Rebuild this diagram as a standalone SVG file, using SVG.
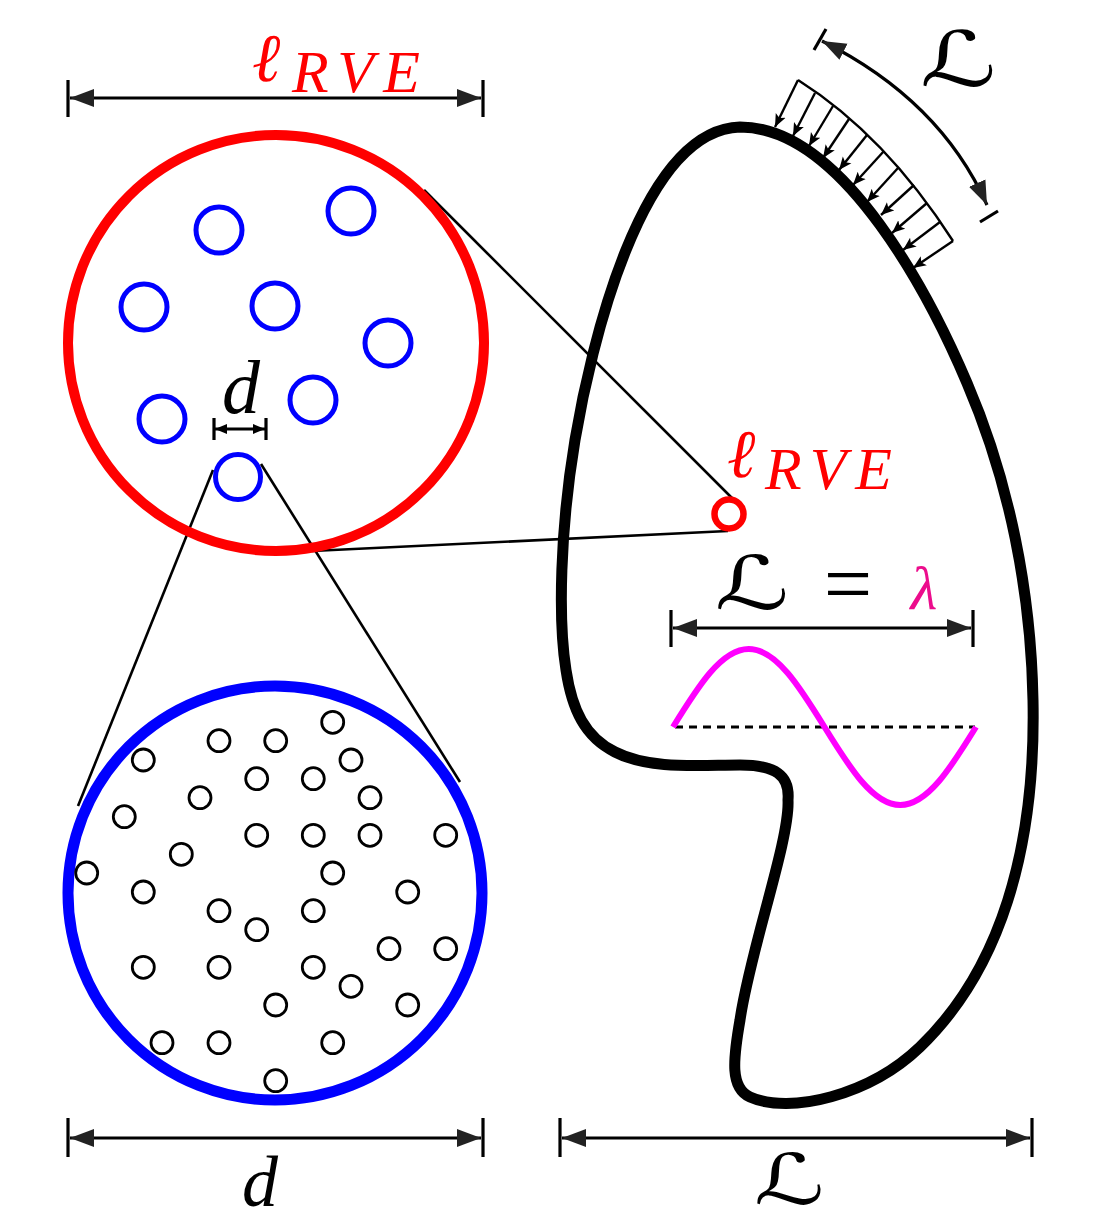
<svg xmlns="http://www.w3.org/2000/svg" width="1097" height="1224" viewBox="0 0 1097 1224">
<style>
.dim{fill:none;stroke:#000;stroke-width:3.2}
.bar{stroke:#000;stroke-width:3.2}
.thin{fill:none;stroke:#000;stroke-width:2.6}
.load{fill:none;stroke:#000;stroke-width:2.4}
.inc{fill:none;stroke:#000;stroke-width:2.8}
.fib{fill:none;stroke:#0000ff;stroke-width:5}
.math{font-family:"Liberation Serif","DejaVu Serif",serif;font-style:italic}
.scr{font-family:"DejaVu Serif","DejaVu Sans",serif}
.ell{font-family:"DejaVu Serif",serif;font-style:italic}
.red{fill:#ff0000}
</style>
<defs>
<marker id="ah" markerUnits="userSpaceOnUse" markerWidth="30" markerHeight="24" refX="24" refY="10" orient="auto-start-reverse" viewBox="0 0 30 24">
<path d="M24,10 L0,1 L0,19 Z" fill="#222"/>
</marker>
<marker id="ahs" markerUnits="userSpaceOnUse" markerWidth="16" markerHeight="14" refX="12" refY="6" orient="auto-start-reverse" viewBox="0 0 16 14">
<path d="M12,6 L0,1 L0,11 Z" fill="#000"/>
</marker>
<marker id="la" markerUnits="userSpaceOnUse" markerWidth="16" markerHeight="14" refX="13" refY="6" orient="auto" viewBox="0 0 16 14">
<path d="M13,6 L0,0.5 L3,6 L0,11.5 Z" fill="#000"/>
</marker>
</defs>

<g id="connectors">
<line class="thin" x1="424" y1="190" x2="734" y2="500"/>
<line class="thin" x1="312" y1="551" x2="728" y2="531"/>
<line class="thin" x1="213" y1="470" x2="78" y2="806"/>
<line class="thin" x1="261" y1="464" x2="460" y2="782"/>
</g>

<g id="rve">
<circle cx="276" cy="343" r="208" fill="none" stroke="#ff0000" stroke-width="10"/>
<circle class="fib" cx="219" cy="230" r="23"/>
<circle class="fib" cx="351" cy="211" r="23"/>
<circle class="fib" cx="144" cy="307" r="23"/>
<circle class="fib" cx="275" cy="306" r="23"/>
<circle class="fib" cx="388" cy="343" r="23"/>
<circle class="fib" cx="162" cy="419" r="23"/>
<circle class="fib" cx="313" cy="400" r="23"/>
<circle class="fib" cx="238" cy="477" r="22.5"/>
</g>

<g id="fiber">
<circle cx="275" cy="893" r="207" fill="none" stroke="#0000ff" stroke-width="11"/>
<g class="inc">
<circle cx="332.7" cy="722.3" r="11"/><circle cx="219" cy="740.7" r="11"/><circle cx="275.7" cy="740.7" r="11"/>
<circle cx="143.3" cy="760" r="11"/><circle cx="351" cy="760" r="11"/><circle cx="256.7" cy="778.7" r="11"/>
<circle cx="313.3" cy="778.7" r="11"/><circle cx="200" cy="797.7" r="11"/><circle cx="370" cy="797.7" r="11"/>
<circle cx="124.3" cy="816.7" r="11"/><circle cx="256.7" cy="835.3" r="11"/><circle cx="313.3" cy="835.3" r="11"/>
<circle cx="370" cy="835.3" r="11"/><circle cx="445.7" cy="835.3" r="11"/><circle cx="181.3" cy="854.3" r="11"/>
<circle cx="86.7" cy="873" r="11"/><circle cx="332.7" cy="873" r="11"/><circle cx="143.3" cy="892" r="11"/>
<circle cx="407.7" cy="892" r="11"/><circle cx="219" cy="910.7" r="11"/><circle cx="313.3" cy="910.7" r="11"/>
<circle cx="256.7" cy="929.7" r="11"/><circle cx="389" cy="948.7" r="11"/><circle cx="445.7" cy="948.7" r="11"/>
<circle cx="143.3" cy="967.3" r="11"/><circle cx="219" cy="967.3" r="11"/><circle cx="313.3" cy="967.3" r="11"/>
<circle cx="351" cy="986.3" r="11"/><circle cx="275.7" cy="1005" r="11"/><circle cx="407.7" cy="1005" r="11"/>
<circle cx="162" cy="1042.7" r="11"/><circle cx="219" cy="1042.7" r="11"/><circle cx="332.7" cy="1042.7" r="11"/>
<circle cx="275.7" cy="1080.7" r="11"/>
</g>
</g>

<g id="body">
<path d="M740,127 C845,127 933,303 967,383 C1009.5,482 1031,592 1033,700 C1036,850 1000,970 920,1047 C870,1095 790,1115 750,1097 C730,1088 733,1060 740,1020 C750,950 790,840 788,800 C790,775 775,765 740,765 C700,765 650,770 615,752 C585,737 572,710 566,670 C558,620 560,530 575,440 C590,350 640,130 740,127 Z" fill="none" stroke="#000" stroke-width="11"/>
</g>

<g id="rve-point">
<circle cx="729" cy="514" r="14.5" fill="none" stroke="#ff0000" stroke-width="6.5"/>
</g>

<g id="load">
<path class="load" d="M798,80 Q885,135 953,241"/>
<g class="load" marker-end="url(#la)">
<line x1="798" y1="80" x2="775" y2="127"/>
<line x1="815" y1="93" x2="793" y2="136"/>
<line x1="833" y1="106" x2="809" y2="146"/>
<line x1="849" y1="119" x2="823" y2="158"/>
<line x1="867" y1="135" x2="839" y2="170"/>
<line x1="884" y1="151" x2="853" y2="185"/>
<line x1="898" y1="168" x2="867" y2="202"/>
<line x1="914" y1="185" x2="881" y2="215"/>
<line x1="927" y1="203" x2="892" y2="233"/>
<line x1="940" y1="222" x2="903" y2="250"/>
<line x1="953" y1="241" x2="913" y2="268"/>
</g>
</g>

<g id="arc-dim">
<path class="dim" stroke-width="2.6" d="M822,41 Q940,100 987,205" marker-start="url(#ah)" marker-end="url(#ah)"/>
<line class="bar" stroke-width="2.6" x1="814" y1="50" x2="826" y2="29"/>
<line class="bar" stroke-width="2.6" x1="980" y1="222" x2="998" y2="211"/>
</g>

<g id="wave">
<line x1="675" y1="727" x2="975" y2="727" stroke="#000" stroke-width="3" stroke-dasharray="8,6"/>
<path d="M673,727 C697.7,687 721.3,649 748.75,649 C776.2,649 799.8,687 824.5,727 C849.2,767 872.8,805 900.25,805 C927.7,805 951.3,767 976,727" fill="none" stroke="#ff00ff" stroke-width="6"/>
</g>

<g id="dims">
<line class="dim" x1="70" y1="98" x2="481" y2="98" marker-start="url(#ah)" marker-end="url(#ah)"/>
<line class="bar" x1="68" y1="80" x2="68" y2="117"/>
<line class="bar" x1="483" y1="80" x2="483" y2="117"/>

<line class="dim" stroke-width="2.4" x1="215" y1="429" x2="265" y2="429" marker-start="url(#ahs)" marker-end="url(#ahs)"/>
<line class="bar" stroke-width="2.6" x1="214" y1="418" x2="214" y2="440"/>
<line class="bar" stroke-width="2.6" x1="266" y1="418" x2="266" y2="440"/>

<line class="dim" x1="673" y1="628" x2="971" y2="628" marker-start="url(#ah)" marker-end="url(#ah)"/>
<line class="bar" x1="671" y1="610" x2="671" y2="647"/>
<line class="bar" x1="973" y1="610" x2="973" y2="647"/>

<line class="dim" x1="70" y1="1138" x2="481" y2="1138" marker-start="url(#ah)" marker-end="url(#ah)"/>
<line class="bar" x1="68" y1="1118" x2="68" y2="1157"/>
<line class="bar" x1="483" y1="1118" x2="483" y2="1157"/>

<line class="dim" x1="562" y1="1138" x2="1030" y2="1138" marker-start="url(#ah)" marker-end="url(#ah)"/>
<line class="bar" x1="560" y1="1118" x2="560" y2="1157"/>
<line class="bar" x1="1032" y1="1118" x2="1032" y2="1157"/>
</g>

<g id="labels">
<text class="ell red" font-size="68" x="252" y="81">ℓ</text>
<text class="math red" font-size="60" x="292" y="92" textLength="128" lengthAdjust="spacing">RVE</text>
<text class="ell red" font-size="68" x="727" y="477">ℓ</text>
<text class="math red" font-size="60" x="765" y="489" textLength="127" lengthAdjust="spacing">RVE</text>
<text class="math" font-size="76" x="241" y="413" text-anchor="middle">d</text>
<text class="math" font-size="72" x="260" y="1206" text-anchor="middle">d</text>
<text class="scr" font-size="76" text-anchor="middle" transform="translate(958,86) scale(1.4,1)">ℒ</text>
<text class="scr" font-size="70" text-anchor="middle" transform="translate(789,1204) scale(1.4,1)">ℒ</text>
<text class="scr" font-size="74" text-anchor="middle" transform="translate(752,609) scale(1.4,1)">ℒ</text>
<text font-family="Liberation Serif, serif" font-size="86" x="848" y="613" text-anchor="middle">=</text>
<text class="math" font-size="62" x="924" y="609" text-anchor="middle" fill="#ec0c8c">λ</text>
</g>
</svg>
